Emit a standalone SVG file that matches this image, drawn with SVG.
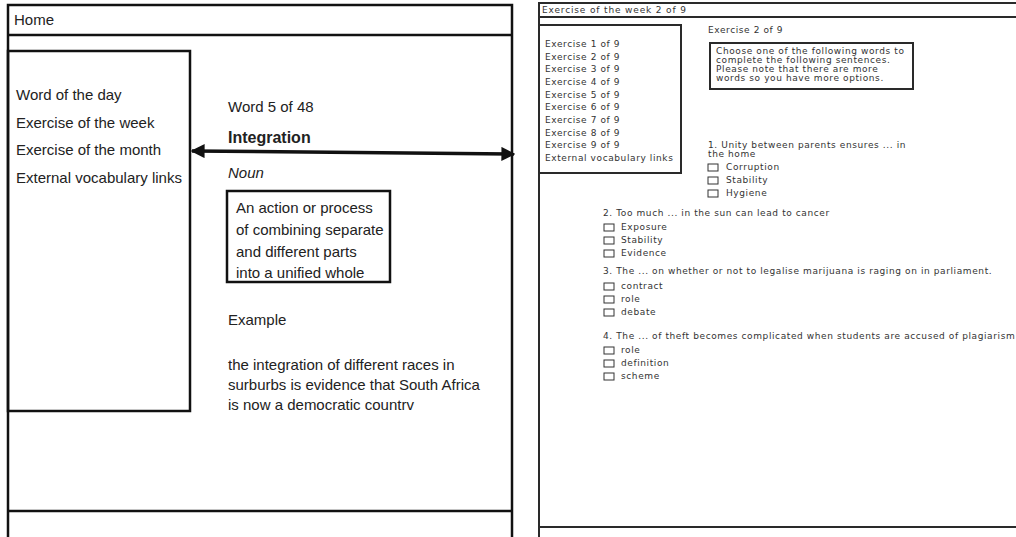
<svg xmlns="http://www.w3.org/2000/svg" width="1016" height="537" viewBox="0 0 1016 537">
<defs>
<style>
.frame{fill:none;stroke:#111;stroke-width:2.5}
.frame2{fill:none;stroke:#2a2a2a;stroke-width:2}
.t{font-family:"Liberation Sans",Arial,sans-serif;font-size:15px;fill:#222}
.s{font-family:"DejaVu Sans","Liberation Sans",sans-serif;font-size:9px;letter-spacing:0.6px;fill:#333}
.cb{fill:#fff;stroke:#333;stroke-width:1}
</style>
<marker id="ah" viewBox="0 0 10 10" refX="9" refY="5" markerWidth="4" markerHeight="4" orient="auto-start-reverse" markerUnits="strokeWidth">
<path d="M0,0 L10,5 L0,10 z" fill="#111"/>
</marker>
</defs>
<rect width="1016" height="537" fill="#fff"/>

<!-- Left screen -->
<g id="screen-word">
<rect x="8" y="5" width="504" height="540" class="frame"/>
<line x1="8" y1="35" x2="512" y2="35" class="frame"/>
<text x="14" y="25" class="t">Home</text>
<line x1="8" y1="511" x2="512" y2="511" class="frame"/>
</g>

<g id="sidebar-left">
<rect x="8" y="51" width="182" height="360" class="frame"/>
<text x="16" y="100" class="t">Word of the day</text>
<text x="16" y="128" class="t">Exercise of the week</text>
<text x="16" y="155" class="t">Exercise of the month</text>
<text x="16" y="183" class="t">External vocabulary links</text>
</g>

<g id="word-content">
<text x="228" y="112" class="t">Word 5 of 48</text>
<text x="228" y="143" class="t" style="font-weight:bold;font-size:16px">Integration</text>
<text x="228" y="178" class="t" style="font-style:italic">Noun</text>
</g>

<g id="definition">
<rect x="227" y="191" width="163" height="91" class="frame"/>
<text x="236" y="213" class="t">An action or process</text>
<text x="236" y="235" class="t">of combining separate</text>
<text x="236" y="257" class="t">and different parts</text>
<text x="236" y="278" class="t">into a unified whole</text>
</g>

<g id="example">
<text x="228" y="325" class="t">Example</text>
<text x="228" y="370" class="t">the integration of different races in</text>
<text x="228" y="390" class="t">surburbs is evidence that South Africa</text>
<text x="228" y="410" class="t">is now a democratic countrv</text>
</g>

<!-- Right screen -->
<g id="screen-exercise">
<path d="M1016,3 L539,3 L539,537" class="frame2"/>
<line x1="539" y1="17" x2="1016" y2="17" class="frame2"/>
<line x1="539" y1="527" x2="1016" y2="527" class="frame2"/>
<text x="542" y="13" class="s" style="letter-spacing:0.85px">Exercise of the week 2 of 9</text>
</g>

<g id="sidebar-right">
<rect x="539" y="25" width="142" height="148" class="frame2"/>
<text x="545" y="47" class="s">Exercise 1 of 9</text>
<text x="545" y="60" class="s">Exercise 2 of 9</text>
<text x="545" y="72" class="s">Exercise 3 of 9</text>
<text x="545" y="85" class="s">Exercise 4 of 9</text>
<text x="545" y="98" class="s">Exercise 5 of 9</text>
<text x="545" y="110" class="s">Exercise 6 of 9</text>
<text x="545" y="123" class="s">Exercise 7 of 9</text>
<text x="545" y="136" class="s">Exercise 8 of 9</text>
<text x="545" y="148" class="s">Exercise 9 of 9</text>
<text x="545" y="161" class="s">External vocabulary links</text>
</g>

<g id="instructions">
<text x="708" y="33" class="s">Exercise 2 of 9</text>
<rect x="710" y="43" width="203" height="46" class="frame2"/>
<text x="716" y="54" class="s">Choose one of the following words to</text>
<text x="716" y="63" class="s">complete the following sentences.</text>
<text x="716" y="72" class="s">Please note that there are more</text>
<text x="716" y="81" class="s">words so you have more options.</text>
</g>

<g id="q1">
<text x="708" y="148" class="s">1. Unity between parents ensures ... in</text>
<text x="708" y="157" class="s">the home</text>
<rect x="708" y="164" width="10" height="7" class="cb"/><text x="726" y="170" class="s">Corruption</text>
<rect x="708" y="177" width="10" height="7" class="cb"/><text x="726" y="183" class="s">Stability</text>
<rect x="708" y="190" width="10" height="7" class="cb"/><text x="726" y="196" class="s">Hygiene</text>
</g>

<g id="q2">
<text x="603" y="216" class="s">2. Too much ... in the sun can lead to cancer</text>
<rect x="604" y="224" width="10" height="7" class="cb"/><text x="621" y="230" class="s">Exposure</text>
<rect x="604" y="237" width="10" height="7" class="cb"/><text x="621" y="243" class="s">Stability</text>
<rect x="604" y="250" width="10" height="7" class="cb"/><text x="621" y="256" class="s">Evidence</text>
</g>

<g id="q3">
<text x="603" y="274" class="s">3. The ... on whether or not to legalise marijuana is raging on in parliament.</text>
<rect x="604" y="283" width="10" height="7" class="cb"/><text x="621" y="289" class="s">contract</text>
<rect x="604" y="296" width="10" height="7" class="cb"/><text x="621" y="302" class="s">role</text>
<rect x="604" y="309" width="10" height="7" class="cb"/><text x="621" y="315" class="s">debate</text>
</g>

<g id="q4">
<text x="603" y="339" class="s">4. The ... of theft becomes complicated when students are accused of plagiarism</text>
<rect x="604" y="347" width="10" height="7" class="cb"/><text x="621" y="353" class="s">role</text>
<rect x="604" y="360" width="10" height="7" class="cb"/><text x="621" y="366" class="s">definition</text>
<rect x="604" y="373" width="10" height="7" class="cb"/><text x="621" y="379" class="s">scheme</text>
</g>

<g id="connectors">
<line x1="192" y1="151" x2="514" y2="154" stroke="#111" stroke-width="3.5" marker-start="url(#ah)" marker-end="url(#ah)"/>
</g>
</svg>
